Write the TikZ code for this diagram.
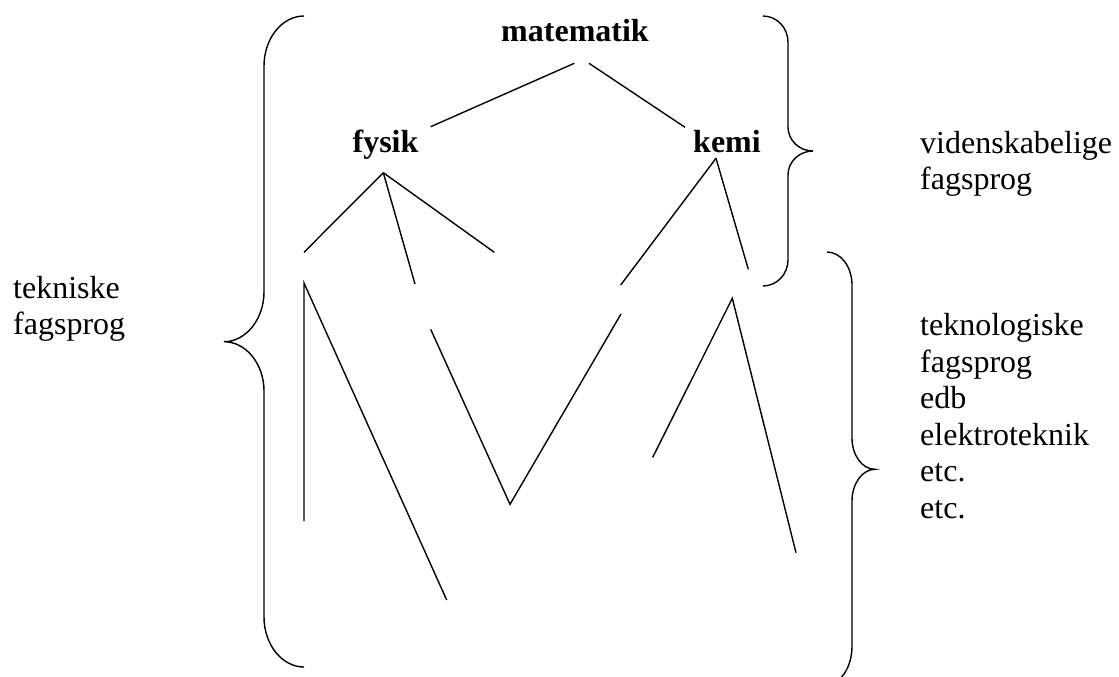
\documentclass[tikz,border=0pt]{standalone}
\usepackage{fontspec}
\setmainfont{Liberation Serif}
\begin{document}
\begin{tikzpicture}[x=1pt,y=-1pt,
  ln/.style={line width=1.4pt,line cap=butt},
  brace/.style={line width=1.4pt},
  txt/.style={inner sep=0pt,font=\fontsize{32}{36.5}\selectfont},
  head/.style={txt,font=\fontsize{32}{36.5}\selectfont\bfseries,anchor=base},
  lab/.style={txt,anchor=base west}]
\useasboundingbox (0,0) rectangle (1119,677);
% headings
\node[head] (mat) at (575,42) {matematik};
\node[head] (fys) at (385.5,152) {fysik};
\node[head] (kem) at (727,152) {kemi};
% labels
\node[lab] (tek1) at (13,298) {tekniske};
\node[lab] (tek2) at (13,334.5) {fagsprog};
\node[lab] (vid1) at (920,153) {videnskabelige};
\node[lab] (vid2) at (920,189) {fagsprog};
\node[lab] (tg1) at (920,335.5) {teknologiske};
\node[lab] (tg2) at (920,372) {fagsprog};
\node[lab] (tg3) at (920,408.5) {edb};
\node[lab] (tg4) at (920,445) {elektroteknik};
\node[lab] (tg5) at (920,481.5) {etc.};
\node[lab] (tg6) at (920,518) {etc.};
% coordinates
\coordinate (m1) at (574.3,63.3);
\coordinate (m2) at (589,63.3);
\coordinate (f0) at (430.7,126.7);
\coordinate (k0) at (685,127.3);
\coordinate (fa) at (383.3,172.7);
\coordinate (fl) at (304,252.3);
\coordinate (fm) at (415,284);
\coordinate (fr) at (494.3,252.3);
\coordinate (ka) at (716,158.3);
\coordinate (kl) at (620.7,285);
\coordinate (kr) at (748.3,269.3);
\coordinate (va) at (304,283);
\coordinate (vb) at (304,521);
\coordinate (vc) at (446.7,600);
\coordinate (w1) at (430.7,329.3);
\coordinate (w2) at (510,504.3);
\coordinate (w3) at (621,314);
\coordinate (p1) at (652.7,457.3);
\coordinate (p2) at (732.3,298.3);
\coordinate (p3) at (796,552.7);
% connectors
\draw[ln] (m1) -- (f0);
\draw[ln] (m2) -- (k0);
\draw[ln] (fa) -- (fl);
\draw[ln] (fa) -- (fm);
\draw[ln] (fa) -- (fr);
\draw[ln] (ka) -- (kl);
\draw[ln] (ka) -- (kr);
\draw[ln] (vb) -- (va) -- (vc);
\draw[ln] (w1) -- (w2) -- (w3);
\draw[ln] (p1) -- (p2) -- (p3);
% left brace
\draw[brace] (304,16) .. controls (282,16) and (264,38.5) .. (264,66)
  -- (264,292) .. controls (264,319) and (246,341.7) .. (224,341.7)
  .. controls (246,341.7) and (264,364) .. (264,391)
  -- (264,617) .. controls (264,644.5) and (282,667) .. (304,667);
% small right brace
\draw[brace] (763,16) .. controls (777,16) and (788,28) .. (788,42)
  -- (788,127) .. controls (788,140) and (799,151) .. (813,151)
  .. controls (799,151) and (788,162) .. (788,175)
  -- (788,260) .. controls (788,274) and (777,286) .. (763,286);
% big right brace
\draw[brace] (827,252) .. controls (841,252) and (852,267) .. (852,285)
  -- (852,438) .. controls (852,455) and (862,469.3) .. (875,469.3)
  .. controls (862,469.3) and (852,484) .. (852,501)
  -- (852,646) .. controls (852,667) and (841,684) .. (827,684);
\end{tikzpicture}
\end{document}
